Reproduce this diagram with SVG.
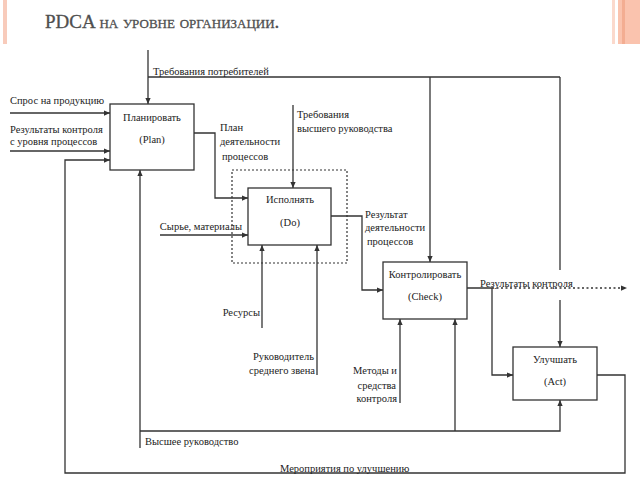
<svg xmlns="http://www.w3.org/2000/svg" width="640" height="480" viewBox="0 0 640 480">
<defs>
<marker id="ah" viewBox="0 0 8 8" refX="8" refY="4" markerWidth="6" markerHeight="6" orient="auto" markerUnits="userSpaceOnUse">
<path d="M0,0.5 L8,4 L0,7.5 z" fill="#333"/>
</marker>
<style>
.t{font-family:'Liberation Serif','Times New Roman',serif;font-size:10.5px;fill:#222}
.c{text-anchor:middle}
.e{text-anchor:end}
.b{fill:#fff;stroke:#333;stroke-width:1.3}
.l{fill:none;stroke:#333;stroke-width:1.3}
.a{marker-end:url(#ah)}
</style>
</defs>
<rect width="640" height="480" fill="#fff"/>
<g id="decor">
<rect x="3" y="0" width="4" height="44" fill="#f8cbbb"/>
<rect x="612" y="0" width="3" height="44" fill="#fbd9cc"/>
<rect x="618" y="0" width="22" height="44" fill="#fac3ae"/>
<rect x="622" y="0" width="3" height="44" fill="#f3ad92"/>
</g>
<g id="title">
<text x="45" y="28" font-family="Liberation Serif, serif" font-size="19" fill="#4f4f4f" stroke="#4f4f4f" stroke-width="0.3">PDCA <tspan font-variant="small-caps">на уровне организации.</tspan></text>
</g>
<g id="connectors">
<path class="l a" d="M148,50 V104"/>
<path class="l" d="M148,77 H560"/>
<path class="l a" d="M430,77 V262"/>
<path class="l" d="M560,77 V270"/>
<path class="l a" d="M560,300 V347"/>
<path class="l a" d="M10,113 H110"/>
<path class="l a" d="M10,151 H110"/>
<path class="l a" d="M597,375 H625 V473 H65 V160 H110"/>
<path class="l a" d="M194,133 H215 V198 H248"/>
<path class="l a" d="M293,105 V188"/>
<path class="l a" d="M160,235 H248"/>
<path class="l a" d="M331,216 H362 V290 H383"/>
<path class="l a" d="M262,328 V245"/>
<path class="l a" d="M317,375 V245"/>
<path class="l a" d="M400,403 V319"/>
<path class="l a" d="M140,448 V170"/>
<path class="l a" d="M140,431 H560 V400"/>
<path class="l a" d="M455,431 V319"/>
<path class="l a" d="M467,288 H492 V375 H513"/>
<path class="l a" d="M492,288 H627" stroke-dasharray="2,2.5"/>
<rect x="232" y="170" width="115" height="93" fill="none" stroke="#333" stroke-width="1.2" stroke-dasharray="2,2"/>
</g>
<g id="plan">
<rect class="b" x="110" y="104" width="84" height="66"/>
<text class="t c" x="152" y="121">Планировать</text>
<text class="t c" x="152" y="143">(Plan)</text>
</g>
<g id="do">
<rect class="b" x="248" y="188" width="83" height="57"/>
<text class="t c" x="290" y="203">Исполнять</text>
<text class="t c" x="290" y="226">(Do)</text>
</g>
<g id="check">
<rect class="b" x="383" y="262" width="84" height="57"/>
<text class="t c" x="425" y="278">Контролировать</text>
<text class="t c" x="425" y="300">(Check)</text>
</g>
<g id="act">
<rect class="b" x="513" y="347" width="84" height="53"/>
<text class="t c" x="555" y="363">Улучшать</text>
<text class="t c" x="555" y="385">(Act)</text>
</g>
<g id="labels">
<text class="t" x="153" y="75">Требования потребителей</text>
<text class="t" x="10" y="104">Спрос на продукцию</text>
<text class="t" x="10" y="133">Результаты контроля</text>
<text class="t" x="10" y="145">с уровня процессов</text>
<text class="t" x="220" y="131">План</text>
<text class="t" x="220" y="145">деятельности</text>
<text class="t" x="222" y="160">процессов</text>
<text class="t" x="297" y="118">Требования</text>
<text class="t" x="297" y="132">высшего руководства</text>
<text class="t e" x="242" y="230">Сырье, материалы</text>
<text class="t" x="365" y="218">Результат</text>
<text class="t" x="365" y="231">деятельности</text>
<text class="t" x="367" y="245">процессов</text>
<text class="t" x="480" y="287">Результаты контроля</text>
<text class="t e" x="260" y="316">Ресурсы</text>
<text class="t e" x="314" y="360">Руководитель</text>
<text class="t e" x="315" y="374">среднего звена</text>
<text class="t e" x="397" y="374">Методы и</text>
<text class="t e" x="396" y="389">средства</text>
<text class="t e" x="397" y="402">контроля</text>
<text class="t" x="145" y="445">Высшее руководство</text>
<text class="t" x="280" y="472">Мероприятия по улучшению</text>
</g>
</svg>
